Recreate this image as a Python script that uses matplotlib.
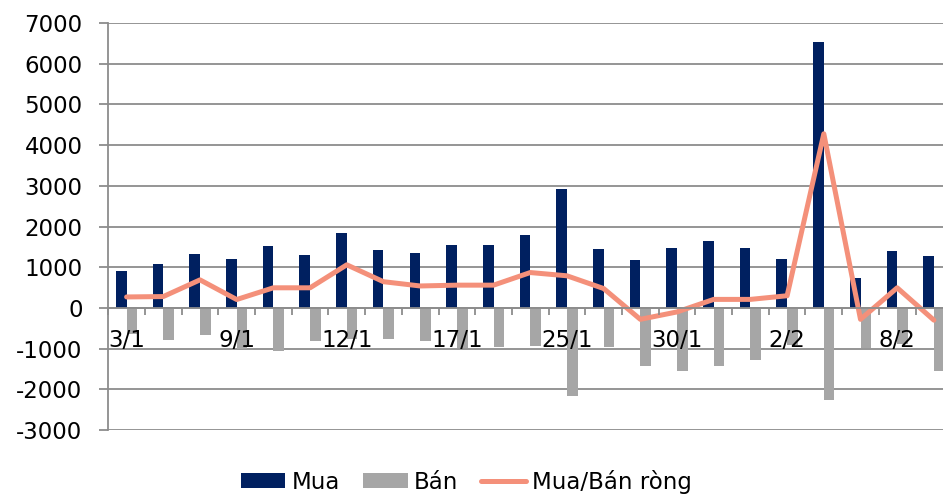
import numpy as np
from matplotlib import pyplot as plt

dates = ['3/1', '4/1', '5/1', '9/1', '10/1', '11/1', '12/1', '13/1', '16/1',
         '17/1', '18/1', '19/1', '25/1', '26/1', '29/1', '30/1', '31/1', '1/2',
         '2/2', '5/2', '6/2', '8/2', '9/2']
mua = [920, 1068, 1322, 1215, 1526, 1290, 1838, 1412, 1346, 1543, 1535, 1790,
       2922, 1437, 1190, 1462, 1641, 1469, 1215, 6532, 748, 1395, 1265]
ban = [-650, -795, -655, -1008, -1058, -812, -770, -753, -812, -984, -967, -935,
       -2166, -960, -1435, -1558, -1435, -1270, -903, -2272, -984, -893, -1541]
rong = [270, 280, 690, 207, 495, 495, 1060, 645, 540, 560, 560, 870,
        790, 477, -280, -98, 210, 210, 300, 4280, -280, 495, -300]

label_every = 3

plt.rcParams['font.family'] = ['DejaVu Sans']
plt.rcParams['axes.unicode_minus'] = False
fig = plt.figure(figsize=(9.43, 4.95), dpi=100)
ax = fig.add_axes([0.1148, 0.1313, 0.895, 0.822])

x = np.arange(len(dates))
w = 0.29
grid_col = '#8c8c8c'
yt = np.arange(-3000, 7001, 1000)

# gridlines drawn by hand so the bars sit on top of them,
# while the tick labels (axis artists) stay above the bars
for v in yt:
    ax.axhline(v, color=grid_col, lw=1.3, zorder=0.5)

b1 = ax.bar(x - w / 2, mua, width=w, color='#002060', label='Mua', zorder=2)
b2 = ax.bar(x + w / 2, ban, width=w, color='#a6a6a6', label='Bán', zorder=2)
l1, = ax.plot(x, rong, color='#f4907a', lw=3.6, label='Mua/Bán ròng', zorder=2.2,
              solid_joinstyle='round', solid_capstyle='round')
ax.set_axisbelow(False)

ax.set_xlim(-0.5, len(dates) - 0.5)
ax.set_ylim(-3000, 7000)
ax.set_yticks(yt)

for s in ['top', 'right']:
    ax.spines[s].set_visible(False)
ax.spines['left'].set_color(grid_col)
ax.spines['left'].set_linewidth(1.3)
ax.spines['bottom'].set_position(('data', 0))
ax.spines['bottom'].set_color(grid_col)
ax.spines['bottom'].set_linewidth(1.3)

ax.tick_params(axis='y', length=6.5, color=grid_col, width=1.3,
               labelsize=16.5, pad=12)
ax.set_xticks(x[::label_every])
ax.set_xticklabels(dates[::label_every])
ax.set_xticks(np.arange(len(dates) + 1) - 0.5, minor=True)
ax.tick_params(axis='x', which='major', length=0, labelsize=16.5, pad=15)
ax.tick_params(axis='x', which='minor', length=5, color=grid_col, width=1.3)

ax.legend(handles=[b1, b2, l1], loc='center', bbox_to_anchor=(0.424, -0.127),
          ncol=3, frameon=False, fontsize=16.5, handlelength=1.96,
          handleheight=0.65, columnspacing=1.0, handletextpad=0.26)

fig.savefig('out.png', dpi=100)
